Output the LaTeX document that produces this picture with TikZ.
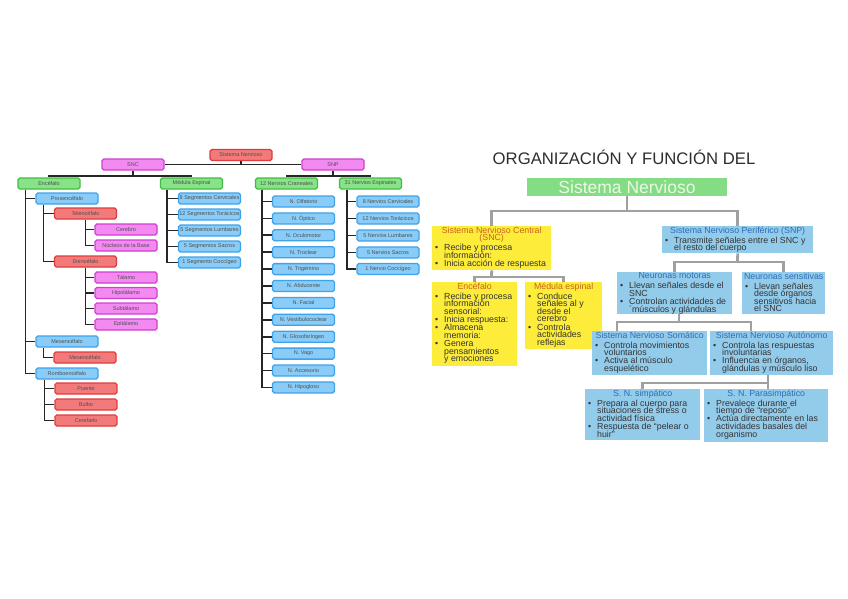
\documentclass[tikz,border=0pt]{standalone}
\usepackage{fontspec}
\setmainfont{Liberation Sans}
\usetikzlibrary{backgrounds}
\definecolor{redF}{HTML}{F27A7A}\definecolor{redD}{HTML}{E03C3C}
\definecolor{magF}{HTML}{F28AF2}\definecolor{magD}{HTML}{D040D0}
\definecolor{bluF}{HTML}{88CCF7}\definecolor{bluD}{HTML}{3FA2EA}
\definecolor{grnF}{HTML}{88E288}\definecolor{grnD}{HTML}{40C040}
\definecolor{ltxt}{HTML}{505050}
\definecolor{yelF}{HTML}{FDEC3A}
\definecolor{ytit}{HTML}{C8641E}
\definecolor{rbF}{HTML}{93CBEB}
\definecolor{btit}{HTML}{2E6DB4}
\definecolor{btxt}{HTML}{333333}
\definecolor{glin}{HTML}{A0A0A0}
\definecolor{snF}{HTML}{84DC84}
\definecolor{snT}{HTML}{ECF8E6}
\newlength\myW
\newcommand\mybox[3]{\setlength\myW{#1}\makebox[#1][l]{\begin{minipage}[c][#2][t]{\dimexpr#1+40pt\relax}\lineskiplimit=-20pt\relax\lineskip=0pt\relax\vspace*{0.5pt}#3\par\end{minipage}}}
\newcommand\mytl[1]{\par\noindent\makebox[\myW][c]{#1}\par}
\newcommand\ytl[1]{\mytl{\color{ytit}#1}}
\newcommand\btl[1]{\mytl{\color{btit}#1}}
\newcommand\tgap{\vspace{1.8pt}}
\newcommand\mybul{\par\vspace{0.6pt}\hangindent=10pt\hangafter=1\noindent\makebox[10pt][l]{\hspace{1pt}•}}
\begin{document}
\begin{tikzpicture}[x=1pt,y=-1pt,
 lb/.style={draw, rounded corners=1.8pt, line width=1.3pt, minimum width=62pt, minimum height=11pt, inner sep=0pt, font=\fontsize{5.5}{6}\selectfont, text=ltxt},
 lred/.style={lb, fill=redF, draw=redD},
 lmag/.style={lb, fill=magF, draw=magD},
 lblu/.style={lb, fill=bluF, draw=bluD},
 lgrn/.style={lb, fill=grnF, draw=grnD},
 ln/.style={line width=1.7pt, black!85},
 gl/.style={line width=2.8pt, glin},
 rb/.style={anchor=north west, inner xsep=2pt, inner ysep=0pt, font=\fontsize{8.8}{7.6}\selectfont, text=btxt},
]
\useasboundingbox (0,0) rectangle (848,599);
% ---------- left tree ----------
\node[lred] (sysn) at (241,155) {Sistema Nervioso};
\node[lmag] (snc) at (133,164.5) {SNC};
\node[lmag] (snp) at (333,164.5) {SNP};
\node[lgrn] (encef) at (49,183.5) {Encéfalo};
\node[lgrn] (med) at (191.5,183.5) {Médula Espinal};
\node[lgrn] (cran) at (286.5,183.5) {12 Nervios Craneales};
\node[lgrn] (esp) at (370.5,183.5) {31 Nervios Espinales};
\node[lblu] (prosen) at (67,198.5) {Prosencéfalo};
\node[lred] (telen) at (85.5,213.5) {Telencéfalo};
\node[lmag] (cerebro) at (126,229.5) {Cerebro};
\node[lmag] (nucleos) at (126,245.5) {Núcleos de la Base};
\node[lred] (dien) at (85.5,261.5) {Diencéfalo};
\node[lmag] (talamo) at (126,277.5) {Tálamo};
\node[lmag] (hipo) at (126,293) {Hipotálamo};
\node[lmag] (subt) at (126,308.5) {Subtálamo};
\node[lmag] (epit) at (126,324.5) {Epitálamo};
\node[lblu] (mesen) at (67,341.5) {Mesencéfalo};
\node[lred] (mesen2) at (85,357.5) {Mesencéfalo};
\node[lblu] (rombo) at (67,373.5) {Romboencéfalo};
\node[lred] (puente) at (86,388.5) {Puente};
\node[lred] (bulbo) at (86,404.5) {Bulbo};
\node[lred] (cerebelo) at (86,420.5) {Cerebelo};
\node[lblu] (seg1) at (209.5,198.5) {8 Segmentos Cervicales};
\node[lblu] (seg2) at (209.5,214.5) {12 Segmentos Torácicos};
\node[lblu] (seg3) at (209.5,230.5) {5 Segmentos Lumbares};
\node[lblu] (seg4) at (209.5,246.5) {5 Segmentos Sacros};
\node[lblu] (seg5) at (209.5,262.5) {1 Segmento Coccígeo};
\node[lblu] (nc1) at (303.5,201.5) {N. Olfatorio};
\node[lblu] (nc2) at (303.5,218.4) {N. Óptico};
\node[lblu] (nc3) at (303.5,235.3) {N. Oculomotor};
\node[lblu] (nc4) at (303.5,252.2) {N. Troclear};
\node[lblu] (nc5) at (303.5,269.1) {N. Trigémino};
\node[lblu] (nc6) at (303.5,286) {N. Abducente};
\node[lblu] (nc7) at (303.5,302.9) {N. Facial};
\node[lblu] (nc8) at (303.5,319.8) {N. Vestibulococlear};
\node[lblu] (nc9) at (303.5,336.7) {N. Glosofaríngeo};
\node[lblu] (nc10) at (303.5,353.6) {N. Vago};
\node[lblu] (nc11) at (303.5,370.5) {N. Accesorio};
\node[lblu] (nc12) at (303.5,387.4) {N. Hipogloso};
\node[lblu] (ne1) at (388,201.5) {8 Nervios Cervicales};
\node[lblu] (ne2) at (388,218.5) {12 Nervios Torácicos};
\node[lblu] (ne3) at (388,235.5) {5 Nervios Lumbares};
\node[lblu] (ne4) at (388,252.5) {5 Nervios Sacros};
\node[lblu] (ne5) at (388,269) {1 Nervio Coccígeo};
\coordinate (k1) at (133,176);
\coordinate (k2) at (333,176);
% ---------- right chart ----------
\node[text=black!82, font=\fontsize{16.7}{18}\selectfont] (title) at (624,157) {ORGANIZACIÓN Y FUNCIÓN DEL};
\node[fill=snF, minimum width=200pt, minimum height=18pt, inner sep=0pt, text=snT, font=\fontsize{17.5}{18}\selectfont] (sn) at (627,187) {Sistema Nervioso};
\node[rb, fill=yelF] (snc2) at (432,226) {\mybox{115pt}{44pt}{\ytl{Sistema Nervioso Central}\ytl{(SNC)}\tgap
\mybul Recibe y procesa\\información:
\mybul Inicia acción de respuesta}};
\node[rb, fill=yelF] (ence) at (432,282) {\mybox{81pt}{84pt}{\ytl{Encéfalo}\tgap
\mybul Recibe y procesa\\información\\sensorial:
\mybul Inicia respuesta:
\mybul Almacena\\memoria:
\mybul Genera\\pensamientos\\y emociones}};
\node[rb, fill=yelF] (medr) at (525,282) {\mybox{73pt}{67pt}{\ytl{Médula espinal}\tgap
\mybul Conduce\\señales al y\\desde el\\cerebro
\mybul Controla\\actividades\\reflejas}};
\node[rb, fill=rbF] (snpr) at (662,226) {\mybox{147pt}{27pt}{\btl{Sistema Nervioso Periférico (SNP)}\tgap
\mybul Transmite señales entre el SNC y\\el resto del cuerpo}};
\node[rb, fill=rbF] (motor) at (617,272) {\mybox{111pt}{42pt}{\btl{Neuronas motoras}\tgap
\mybul Llevan señales desde el\\SNC
\mybul Controlan actividades de\\´músculos y glándulas}};
\node[rb, fill=rbF] (sens) at (742,272) {\mybox{79pt}{42pt}{\btl{Neuronas sensitivas}\tgap
\mybul Llevan señales\\desde órganos\\sensitivos hacia\\el SNC}};
\node[rb, fill=rbF] (som) at (592,331) {\mybox{111pt}{44pt}{\btl{Sistema Nervioso Somático}\tgap
\mybul Controla movimientos\\voluntarios
\mybul Activa al músculo\\esquelético}};
\node[rb, fill=rbF] (aut) at (710,331) {\mybox{119pt}{44pt}{\btl{Sistema Nervioso Autónomo}\tgap
\mybul Controla las respuestas\\involuntarias
\mybul Influencia en órganos,\\glándulas y músculo liso}};
\node[rb, fill=rbF] (simp) at (585,389) {\mybox{111pt}{51pt}{\btl{S. N. simpático}\tgap
\mybul Prepara al cuerpo para\\situaciones de stress o\\actividad física
\mybul Respuesta de “pelear o\\huir”}};
\node[rb, fill=rbF] (para) at (704,389) {\mybox{120pt}{53pt}{\btl{S. N. Parasimpático}\tgap
\mybul Prevalece durante el\\tiempo de “reposo”
\mybul Actúa directamente en las\\actividades basales del\\organismo}};
\coordinate (j1) at (627,211);
\coordinate (j2) at (491.5,277);
\coordinate (j3) at (737.5,262);
\coordinate (j4) at (679,322);
\coordinate (j4l) at (617,322);
\coordinate (j4r) at (751,322);
\coordinate (j5) at (768,383);
\begin{pgfonlayer}{background}
\fill[white] (0,0) rectangle (848,599);
% left connectors
\draw[ln] (sysn.south) -- (sysn.south |- snc.east);
\draw[ln] (snc.east) -- (snp.west);
\draw[ln] (snc.south) -- (k1);
\draw[ln] (encef.north) |- (k1) -| (med.north);
\draw[ln] (snp.south) -- (k2);
\draw[ln] (cran.north) |- (k2) -| (esp.north);
\foreach \t in {prosen,mesen,rombo} \draw[ln] ([xshift=8pt]encef.south west) |- (\t.west);
\foreach \t in {telen,dien} \draw[ln] ([xshift=8pt]prosen.south west) |- (\t.west);
\foreach \t in {cerebro,nucleos} \draw[ln] (telen.south) |- (\t.west);
\foreach \t in {talamo,hipo,subt,epit} \draw[ln] (dien.south) |- (\t.west);
\draw[ln] ([xshift=8pt]mesen.south west) |- (mesen2.west);
\foreach \t in {puente,bulbo,cerebelo} \draw[ln] ([xshift=9pt]rombo.south west) |- (\t.west);
\foreach \t in {seg1,seg2,seg3,seg4,seg5} \draw[ln] ([xshift=7pt]med.south west) |- (\t.west);
\foreach \t in {nc1,nc2,nc3,nc4,nc5,nc6,nc7,nc8,nc9,nc10,nc11,nc12} \draw[ln] ([xshift=7pt]cran.south west) |- (\t.west);
\foreach \t in {ne1,ne2,ne3,ne4,ne5} \draw[ln] ([xshift=8pt]esp.south west) |- (\t.west);
% right connectors
\draw[gl] (sn.south) -- (j1);
\draw[gl] (snc2.north) |- (j1) -| (snpr.north);
\draw[gl] (snc2.south) -- (j2);
\draw[gl] (ence.north) |- (j2) -| (medr.north);
\draw[gl] (snpr.south) -- (j3);
\draw[gl] (motor.north) |- (j3) -| (sens.north);
\draw[gl] (motor.south -| j4) -- (j4);
\draw[gl] (j4l |- som.north) -- (j4l) -- (j4r) -- (j4r |- aut.north);
\draw[gl] (aut.south -| j5) -- (j5 |- para.north);
\draw[gl] (simp.north) |- (j5);
\end{pgfonlayer}
\end{tikzpicture}
\end{document}
